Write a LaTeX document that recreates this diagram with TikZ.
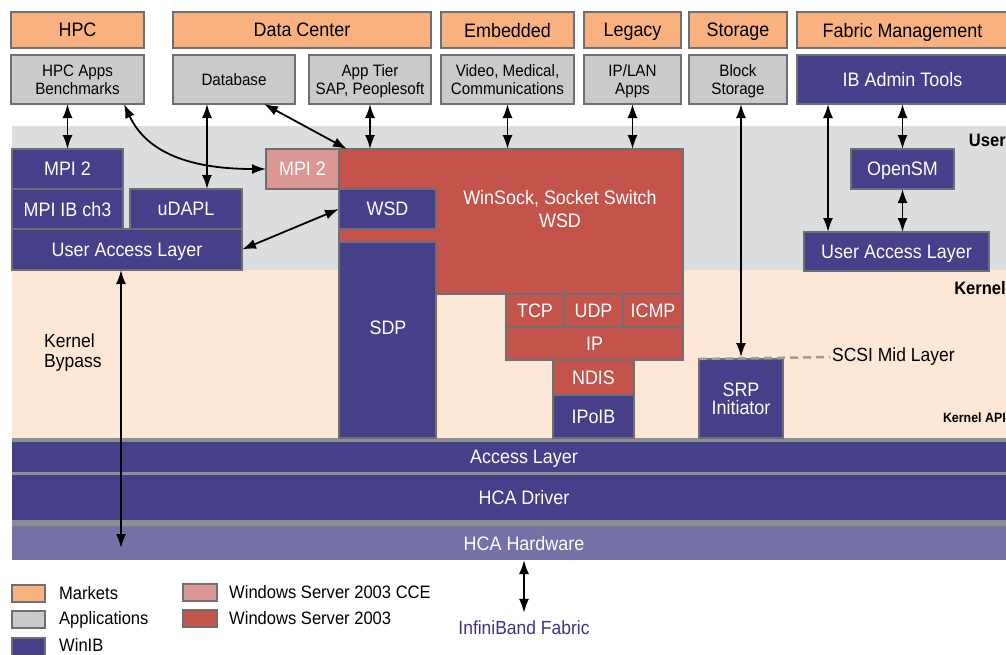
\documentclass[tikz,border=0pt]{standalone}
\usepackage{fontspec}
\setmainfont[FakeStretch=0.92]{Liberation Sans}
\usetikzlibrary{arrows.meta,calc}
\definecolor{mktc}{HTML}{F9B17F}
\definecolor{appc}{HTML}{C9CACC}
\definecolor{wibc}{HTML}{454089}
\definecolor{wsc}{HTML}{C4534B}
\definecolor{ccec}{HTML}{DB9793}
\definecolor{userbg}{HTML}{DCDDDF}
\definecolor{kernbg}{HTML}{FDE7D7}
\definecolor{hwc}{HTML}{7471A7}
\definecolor{edgec}{HTML}{6E6F72}
\definecolor{sepc}{HTML}{8D8E91}
\definecolor{ibfc}{HTML}{3A3585}
\definecolor{scsic}{HTML}{9C9DA0}
\newcommand\setfs[2]{\fontsize{#1}{#2}\selectfont}
\newcommand\mybox[7]{\node[#1, minimum width={(#5-#3)*1pt}, minimum height={(#6-#4)*1pt}] (#2) at (#3,#4) {#7};}
\tikzset{
  box/.style={draw=edgec, line width=1.5pt, inner sep=0pt, outer sep=0pt, anchor=north west, align=center, text depth=0pt},
  mkt/.style={box, fill=mktc, font=\setfs{19.5}{22}},
  app/.style={box, fill=appc, font=\setfs{16.5}{18}},
  wib/.style={box, fill=wibc, text=white, font=\setfs{19.5}{18}},
  ws/.style={box, fill=wsc, text=white, font=\setfs{19.5}{18}},
  cce/.style={box, fill=ccec, text=white, font=\setfs{19.5}{18}},
  band/.style={fill=wibc, text=white, inner sep=0pt, outer sep=0pt, anchor=north west, text depth=0pt, font=\setfs{19.5}{20}},
  hwband/.style={band, fill=hwc},
  wtext/.style={text=white, inner sep=0pt, align=center, font=\setfs{19.5}{23}},
  lbl/.style={inner sep=0pt, anchor=west, align=left, font=\setfs{19}{20}},
  lgd/.style={inner sep=0pt, anchor=west, font=\setfs{18}{20}},
  side/.style={inner sep=0pt, anchor=east, font=\bfseries\setfs{18}{20}},
  dbl/.style={line width=1.8pt, arrows={Latex[length=14pt,width=10pt]-Latex[length=14pt,width=10pt]}},
  scsiline/.style={draw=scsic, line width=2.5pt, dash pattern=on 8pt off 5pt}
}
\begin{document}
\begin{tikzpicture}[x=1pt,y=-1pt]
\useasboundingbox (0,0) rectangle (1006,654);
\clip (0,0) rectangle (1006,654);
% background layers
\fill[userbg] (12,126) rectangle (1040,270);
\fill[kernbg] (12,270) rectangle (1040,438);
\fill[sepc] (12,438) rectangle (1040,526);
\mybox{band}{access}{12}{442}{1036}{472}{Access Layer}
\mybox{band}{driver}{12}{475}{1036}{520}{HCA Driver}
\mybox{hwband}{hcahw}{12}{526}{1036}{560}{HCA Hardware}
% markets
\mybox{mkt}{hpc}{11}{12}{144}{48}{HPC}
\mybox{mkt}{dc}{173}{12}{431}{48}{Data Center}
\mybox{mkt}{emb}{441}{12}{574}{48}{Embedded}
\mybox{mkt}{leg}{584}{12}{681}{48}{Legacy}
\mybox{mkt}{sto}{689}{12}{787}{48}{Storage}
\mybox{mkt}{fab}{797}{12}{1008}{48}{Fabric Management}
% applications
\mybox{app}{hpcapps}{11}{55}{144}{104}{HPC Apps\\Benchmarks}
\mybox{app}{db}{173}{55}{295}{104}{Database}
\mybox{app}{apptier}{309}{55}{431}{104}{App Tier\\SAP, Peoplesoft}
\mybox{app}{video}{441}{55}{574}{104}{Video, Medical,\\Communications}
\mybox{app}{iplan}{584}{55}{681}{104}{IP/LAN\\Apps}
\mybox{app}{block}{689}{55}{787}{104}{Block\\Storage}
\mybox{wib}{ibadmin}{797}{55}{1008}{104}{IB Admin Tools}
% user space
\mybox{wib}{mpil}{12}{149}{123}{189}{MPI 2}
\mybox{wib}{mpiib}{12}{189}{123}{229}{MPI IB ch3}
\mybox{wib}{udapl}{130}{189}{242}{229}{uDAPL}
\mybox{wib}{uall}{12}{229}{242}{270}{User Access Layer}
\mybox{cce}{mpip}{266}{149}{339}{189}{MPI 2}
\mybox{ws}{winsock}{339}{149}{683}{294}{}
\node[wtext] (wstext) at (560,209) {WinSock, Socket Switch\\WSD};
\mybox{wib}{wsd}{339}{189}{436}{229}{WSD}
\mybox{wib}{sdp}{339}{242}{436}{438}{}
\node[wtext] (sdptext) at (388,328) {SDP};
\mybox{ws}{tcp}{506}{294}{564}{327}{TCP}
\mybox{ws}{udp}{564}{294}{623}{327}{UDP}
\mybox{ws}{icmp}{623}{294}{683}{327}{ICMP}
\mybox{ws}{ip}{506}{327}{683}{360}{IP}
\mybox{ws}{ndis}{553}{360}{634}{395}{NDIS}
\mybox{wib}{ipoib}{553}{395}{634}{438}{IPoIB}
\mybox{wib}{srp}{699}{359}{783}{438}{SRP\\Initiator}
\mybox{wib}{opensm}{851}{149}{954}{189}{OpenSM}
\mybox{wib}{ualr}{804}{232}{989}{271}{User Access Layer}
% labels
\node[side] (user) at (1006,140) {User};
\node[side] (kernel) at (1006,288) {Kernel};
\node[side, font=\bfseries\setfs{13.5}{15}] (kapi) at (1006,418) {Kernel API};
\node[lbl] (kbp) at (44,353) {Kernel\\Bypass};
\node[lbl] (scsi) at (832,357) {SCSI Mid Layer};
\node[inner sep=0pt, text=ibfc, font=\setfs{19}{20}] (ibf) at (524,628) {InfiniBand Fabric};
\draw[scsiline] (srp.north west) -- ([xshift=-2pt]scsi.west);
% legend
\mybox{mkt}{lgm}{12}{585}{45}{602}{}
\node[lgd] (lgmt) at (59,593) {Markets};
\mybox{app}{lga}{12}{611}{45}{628}{}
\node[lgd] (lgat) at (59,620) {Applications};
\mybox{wib}{lgw}{12}{638}{45}{662}{}
\node[lgd] (lgwt) at (59,645) {WinIB};
\mybox{cce}{lgc}{183}{584}{217}{601}{}
\node[lgd] (lgct) at (229,592) {Windows Server 2003 CCE};
\mybox{ws}{lgs}{183}{610}{217}{627}{}
\node[lgd] (lgst) at (229,618) {Windows Server 2003};
% arrows
\draw[dbl] (mpil.north |- hpcapps.south) -- (mpil.north);
\draw[dbl] ([xshift=-20pt]hpcapps.south east) .. controls +(26,56) and +(-60,0) .. (mpip.west);
\draw[dbl] ([xshift=34pt]db.south west) -- ([xshift=-35pt]udapl.north east);
\draw[dbl] ([xshift=-31pt]db.south east) -- ([xshift=8pt]winsock.north west);
\draw[dbl] (apptier.south) -- (apptier.south |- winsock.north);
\draw[dbl] (uall.east) -- (wsd.west);
\draw[dbl] (video.south) -- (video.south |- winsock.north);
\draw[dbl] (iplan.south) -- (iplan.south |- winsock.north);
\draw[dbl] (srp.north |- block.south) -- ([yshift=2pt]srp.north);
\draw[dbl] ([xshift=31pt]ibadmin.south west) -- ([xshift=24pt]ualr.north west);
\draw[dbl] (opensm.north |- ibadmin.south) -- (opensm.north);
\draw[dbl] (opensm.south) -- (opensm.south |- ualr.north);
\draw[dbl] ([xshift=-6pt]uall.south) -- ([xshift=109pt,yshift=12pt]hcahw.south west);
\draw[dbl] (ibf.north |- hcahw.south) -- ([yshift=8pt]ibf.north);
\end{tikzpicture}
\end{document}
